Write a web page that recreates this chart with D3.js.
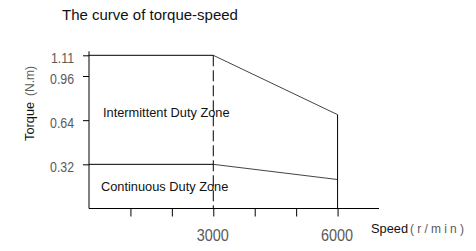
<!DOCTYPE html>
<html>
<head>
<meta charset="utf-8">
<script src="https://cdn.jsdelivr.net/npm/d3@7"></script>
<style>
  body { margin: 0; background: #fff; }
  svg { display: block; }
  .num { font-family: "Liberation Sans", Arial, sans-serif; fill: #5a5a5a; }
  .lbl { font-family: "Liberation Sans", Arial, sans-serif; fill: #111; }
</style>
</head>
<body>
<div id="chart"></div>
<script>
// speed points of the curve (r/min)
const speeds = [0, 3000, 6000];
// torque limits (N.m)
const intermittent = [1.11, 1.11, 0.68];
const continuous = [0.32, 0.32, 0.21];

const yTicks = [0.32, 0.64, 0.96, 1.11];
const xTicks = [1000, 2000, 3000, 4000, 5000, 6000];
const xLabels = [3000, 6000];

const W = 476, H = 251;

const x = d3.scaleLinear().domain([0, 7000]).range([89, 379]);
const y = d3.scaleLinear().domain([0, 1.11]).range([208.5, 55.3]);

const svg = d3
  .select("#chart")
  .append("svg")
  .attr("width", W)
  .attr("height", H);

// title
svg
  .append("text")
  .attr("class", "lbl")
  .attr("x", 62)
  .attr("y", 20)
  .attr("font-size", 15)
  .text("The curve of torque-speed");

// y axis
const yAxis = d3
  .axisLeft(y)
  .tickValues(yTicks)
  .tickSize(6)
  .tickSizeOuter(0)
  .tickFormat(d3.format(".2f"));

const gy = svg.append("g").attr("transform", `translate(${x(0)},0)`).call(yAxis);
gy.select(".domain").remove();
gy.selectAll(".tick line").attr("stroke", "#000");
// condensed look for the numbers
gy.selectAll(".tick text")
  .attr("class", "num")
  .attr("font-size", 14.5)
  .attr("x", 0)
  .attr("dy", "0.52em")
  .attr("transform", "translate(-15,0) scale(0.85,1)");

svg
  .append("line")
  .attr("x1", x(0))
  .attr("x2", x(0))
  .attr("y1", y(1.11) - 4)
  .attr("y2", y(0))
  .attr("stroke", "#000");

// x axis
const xAxis = d3
  .axisBottom(x)
  .tickValues(xTicks)
  .tickSize(8)
  .tickSizeOuter(0)
  .tickFormat((d) => (xLabels.includes(d) ? d : ""));

const gx = svg.append("g").attr("transform", `translate(0,${y(0)})`).call(xAxis);
gx.select(".domain").remove();
gx.selectAll(".tick line").attr("stroke", "#000");
gx.selectAll(".tick text")
  .attr("class", "num")
  .attr("font-size", 17)
  .attr("y", 0)
  .attr("dy", 0)
  .attr("transform", "translate(-1,32.5) scale(0.85,1)");

svg
  .append("line")
  .attr("x1", x(0))
  .attr("x2", x(7000))
  .attr("y1", y(0))
  .attr("y2", y(0))
  .attr("stroke", "#000");

// curves: flat part in black, falling part thinner grey
const pts = (arr) => speeds.map((s, i) => [x(s), y(arr[i])]);

[intermittent, continuous].forEach((arr) => {
  const p = pts(arr);
  svg
    .append("line")
    .attr("x1", p[0][0])
    .attr("y1", p[0][1])
    .attr("x2", p[1][0])
    .attr("y2", p[1][1])
    .attr("stroke", "#000");
  svg
    .append("line")
    .attr("x1", p[1][0])
    .attr("y1", p[1][1])
    .attr("x2", p[2][0])
    .attr("y2", p[2][1])
    .attr("stroke", "#444");
});

// vertical limit at max speed
svg
  .append("line")
  .attr("x1", x(6000))
  .attr("x2", x(6000))
  .attr("y1", y(intermittent[2]))
  .attr("y2", y(0))
  .attr("stroke", "#000");

// dashed line at rated speed
svg
  .append("line")
  .attr("x1", x(3000))
  .attr("x2", x(3000))
  .attr("y1", y(intermittent[1]))
  .attr("y2", y(0))
  .attr("stroke", "#000")
  .attr("stroke-dasharray", "11,4");

// zone labels
svg
  .append("text")
  .attr("class", "lbl")
  .attr("x", 103)
  .attr("y", 117)
  .attr("font-size", 12.8)
  .text("Intermittent Duty Zone");

svg
  .append("text")
  .attr("class", "lbl")
  .attr("x", 101)
  .attr("y", 191)
  .attr("font-size", 12.8)
  .text("Continuous Duty Zone");

// axis titles
svg
  .append("text")
  .attr("class", "lbl")
  .attr("transform", "translate(34,141) rotate(-90)")
  .attr("font-size", 12.8)
  .text("Torque");
svg
  .append("text")
  .attr("class", "num")
  .attr("transform", "translate(34,96) rotate(-90)")
  .attr("font-size", 12)
  .attr("fill", "#333")
  .text("(N.m)");

svg
  .append("text")
  .attr("class", "lbl")
  .attr("x", 371)
  .attr("y", 233)
  .attr("font-size", 12.8)
  .text("Speed");
svg
  .append("text")
  .attr("class", "num")
  .attr("x", 410)
  .attr("y", 233)
  .attr("font-size", 12)
  .attr("fill", "#333")
  .attr("textLength", 54)
  .text("(r/min)");
</script>
</body>
</html>
